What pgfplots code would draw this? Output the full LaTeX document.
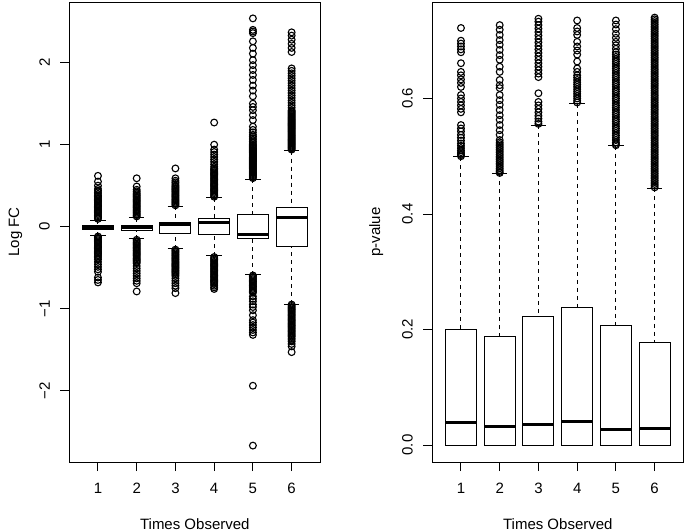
\documentclass[border=0pt]{standalone}
\usepackage{fontspec}
\setmainfont{Liberation Sans}
\usepackage{pgfplots}
\pgfplotsset{compat=1.18}
\usepgfplotslibrary{statistics}
\pgfplotsset{
  boxplot/draw/lower whisker/.code={%
    \draw[dash pattern=on 4bp off 4bp]
      (boxplot cs:\pgfplotsboxplotvalue{lower whisker}) -- (boxplot cs:\pgfplotsboxplotvalue{lower quartile});
    \draw[solid] (boxplot whisker cs:\pgfplotsboxplotvalue{lower whisker},0) -- (boxplot whisker cs:\pgfplotsboxplotvalue{lower whisker},1);
  },
  boxplot/draw/upper whisker/.code={%
    \draw[dash pattern=on 4bp off 4bp]
      (boxplot cs:\pgfplotsboxplotvalue{upper whisker}) -- (boxplot cs:\pgfplotsboxplotvalue{upper quartile});
    \draw[solid] (boxplot whisker cs:\pgfplotsboxplotvalue{upper whisker},0) -- (boxplot whisker cs:\pgfplotsboxplotvalue{upper whisker},1);
  },
  rbox/.style={black, solid, line width=0.95bp, mark=o, mark size=3.4bp,
    mark options={line width=1.1bp},
    boxplot/draw direction=y,
    boxplot/box extend=0.8, boxplot/whisker extend=0.4,
    boxplot/every median/.style={line width=3bp}},
  rax/.style={scale only axis, width=251bp, height=460bp, anchor=south west,
    xmin=0.26, xmax=6.74, xtick={1,2,3,4,5,6}, xticklabels={1,2,3,4,5,6},
    tick align=outside, major tick length=9bp, xtick pos=left, ytick pos=left,
    axis line style={line width=0.95bp, black}, tick style={line width=0.95bp, black},
    yticklabel style={xshift=-7bp, rotate=90, anchor=south},
    xticklabel style={yshift=-9bp},
    xlabel={Times Observed},
    every axis x label/.style={at={(axis description cs:0.5,-0.1457)}, anchor=base},
  },
}
\begin{document}
\begin{tikzpicture}[font=\fontsize{15bp}{18bp}\selectfont]
\path[use as bounding box] (0,0) rectangle (685bp,532bp);
% ---------------- left panel: Log FC
\begin{axis}[rax, at={(69.3bp,70bp)},
  ymin=-2.870, ymax=2.740, ytick={-2,-1,0,1,2}, yticklabels={−2,−1,0,1,2},
  ylabel={Log FC},
  every axis y label/.style={at={(axis description cs:-0.215,0.5)}, anchor=center, rotate=90}]
\addplot[rbox, boxplot prepared={draw position=1, lower whisker=-0.11, lower quartile=-0.04, median=-0.016, upper quartile=0.012, upper whisker=0.08}]
 table[row sep=\\, y index=0] {v\\ 0.62\\ 0.55\\ 0.50\\ 0.46\\ 0.44\\ 0.42\\ 0.40\\ 0.38\\ 0.365\\ 0.35\\ 0.335\\ 0.32\\ 0.305\\ 0.29\\ 0.275\\ 0.26\\ 0.245\\ 0.23\\ 0.215\\ 0.20\\ 0.185\\ 0.17\\ 0.155\\ 0.14\\ 0.125\\ 0.11\\ 0.095\\
 -0.12\\ -0.135\\ -0.15\\ -0.165\\ -0.18\\ -0.195\\ -0.21\\ -0.225\\ -0.24\\ -0.255\\ -0.27\\ -0.285\\ -0.30\\ -0.315\\ -0.33\\ -0.345\\ -0.36\\ -0.38\\ -0.40\\ -0.43\\ -0.46\\ -0.49\\ -0.52\\ -0.55\\ -0.62\\ -0.65\\ -0.68\\};
\addplot[rbox, boxplot prepared={draw position=2, lower whisker=-0.15, lower quartile=-0.05, median=-0.012, upper quartile=0.02, upper whisker=0.11}]
 table[row sep=\\, y index=0] {v\\ 0.59\\ 0.49\\ 0.45\\ 0.43\\ 0.41\\ 0.395\\ 0.38\\ 0.365\\ 0.35\\ 0.335\\ 0.32\\ 0.305\\ 0.29\\ 0.275\\ 0.26\\ 0.245\\ 0.23\\ 0.215\\ 0.20\\ 0.185\\ 0.17\\ 0.155\\ 0.14\\ 0.125\\
 -0.16\\ -0.175\\ -0.19\\ -0.205\\ -0.22\\ -0.235\\ -0.25\\ -0.265\\ -0.28\\ -0.295\\ -0.31\\ -0.325\\ -0.34\\ -0.355\\ -0.37\\ -0.385\\ -0.40\\ -0.415\\ -0.43\\ -0.445\\ -0.48\\ -0.51\\ -0.54\\ -0.57\\ -0.60\\ -0.63\\ -0.66\\ -0.69\\ -0.79\\};
\addplot[rbox, boxplot prepared={draw position=3, lower whisker=-0.27, lower quartile=-0.08, median=0.03, upper quartile=0.053, upper whisker=0.25}]
 table[row sep=\\, y index=0] {v\\ 0.71\\ 0.59\\ 0.56\\ 0.54\\ 0.52\\ 0.50\\ 0.485\\ 0.47\\ 0.455\\ 0.44\\ 0.425\\ 0.41\\ 0.395\\ 0.38\\ 0.365\\ 0.35\\ 0.335\\ 0.32\\ 0.305\\ 0.29\\ 0.275\\ 0.26\\
 -0.28\\ -0.295\\ -0.31\\ -0.325\\ -0.34\\ -0.355\\ -0.37\\ -0.385\\ -0.40\\ -0.415\\ -0.43\\ -0.445\\ -0.46\\ -0.475\\ -0.49\\ -0.505\\ -0.52\\ -0.535\\ -0.55\\ -0.565\\ -0.58\\ -0.60\\ -0.63\\ -0.66\\ -0.69\\ -0.72\\ -0.75\\ -0.81\\};
\addplot[rbox, boxplot prepared={draw position=4, lower whisker=-0.357, lower quartile=-0.09, median=0.054, upper quartile=0.098, upper whisker=0.35}]
 table[row sep=\\, y index=0] {v\\ 1.27\\ 1.00\\ 0.94\\ 0.91\\ 0.88\\ 0.85\\ 0.82\\ 0.79\\ 0.76\\ 0.73\\ 0.71\\ 0.695\\ 0.68\\ 0.665\\ 0.65\\ 0.635\\ 0.62\\ 0.605\\ 0.59\\ 0.575\\ 0.56\\ 0.545\\ 0.53\\ 0.515\\ 0.50\\ 0.485\\ 0.47\\ 0.455\\ 0.44\\ 0.425\\ 0.41\\ 0.395\\ 0.38\\ 0.365\\
 -0.37\\ -0.385\\ -0.40\\ -0.415\\ -0.43\\ -0.445\\ -0.46\\ -0.475\\ -0.49\\ -0.505\\ -0.52\\ -0.535\\ -0.55\\ -0.565\\ -0.58\\ -0.595\\ -0.61\\ -0.625\\ -0.64\\ -0.655\\ -0.67\\ -0.685\\ -0.70\\ -0.72\\ -0.74\\ -0.76\\};
\addplot[rbox, boxplot prepared={draw position=5, lower whisker=-0.585, lower quartile=-0.146, median=-0.10, upper quartile=0.146, upper whisker=0.58}]
 table[row sep=\\, y index=0] {v\\ 2.54\\ 2.40\\ 2.38\\ 2.36\\ 2.26\\ 2.18\\ 2.11\\ 2.03\\ 1.97\\ 1.91\\ 1.85\\ 1.79\\ 1.72\\ 1.66\\ 1.59\\ 1.50\\ 1.46\\ 1.42\\ 1.36\\ 1.30\\ 1.22\\ 1.18\\ 1.15\\ 1.12\\ 1.10\\ 1.08\\ 1.06\\ 1.04\\ 1.02\\
 1.00\\ 0.988\\ 0.976\\ 0.964\\ 0.952\\ 0.94\\ 0.928\\ 0.916\\ 0.904\\ 0.892\\ 0.88\\ 0.868\\ 0.856\\ 0.844\\ 0.832\\ 0.82\\ 0.808\\ 0.796\\ 0.784\\ 0.772\\ 0.76\\ 0.748\\ 0.736\\ 0.724\\ 0.712\\ 0.70\\ 0.688\\ 0.676\\ 0.664\\ 0.652\\ 0.64\\ 0.628\\ 0.616\\ 0.604\\ 0.592\\
 -0.595\\ -0.61\\ -0.625\\ -0.64\\ -0.655\\ -0.67\\ -0.685\\ -0.70\\ -0.715\\ -0.73\\ -0.745\\ -0.76\\ -0.775\\ -0.79\\ -0.805\\ -0.85\\ -0.88\\ -0.91\\ -0.95\\ -0.98\\ -1.02\\ -1.08\\ -1.14\\ -1.17\\ -1.20\\ -1.23\\ -1.26\\ -1.29\\ -1.32\\ -1.94\\ -2.67\\};
\addplot[rbox, boxplot prepared={draw position=6, lower whisker=-0.943, lower quartile=-0.244, median=0.11, upper quartile=0.228, upper whisker=0.927}]
 table[row sep=\\, y index=0] {v\\ 2.37\\ 2.33\\ 2.28\\ 2.23\\ 2.18\\ 2.13\\ 1.93\\ 1.90\\ 1.87\\ 1.84\\ 1.81\\ 1.78\\ 1.75\\ 1.72\\ 1.69\\ 1.66\\ 1.63\\ 1.60\\ 1.57\\ 1.54\\ 1.51\\ 1.48\\ 1.45\\
 1.42\\ 1.408\\ 1.396\\ 1.384\\ 1.372\\ 1.36\\ 1.348\\ 1.336\\ 1.324\\ 1.312\\ 1.30\\ 1.288\\ 1.276\\ 1.264\\ 1.252\\ 1.24\\ 1.228\\ 1.216\\ 1.204\\ 1.192\\ 1.18\\ 1.168\\ 1.156\\ 1.144\\ 1.132\\ 1.12\\ 1.108\\ 1.096\\ 1.084\\ 1.072\\ 1.06\\ 1.048\\ 1.036\\ 1.024\\ 1.012\\ 1.00\\ 0.988\\ 0.976\\ 0.964\\ 0.952\\ 0.94\\
 -0.95\\ -0.965\\ -0.98\\ -0.995\\ -1.01\\ -1.025\\ -1.04\\ -1.055\\ -1.07\\ -1.085\\ -1.10\\ -1.115\\ -1.13\\ -1.145\\ -1.16\\ -1.175\\ -1.19\\ -1.205\\ -1.22\\ -1.235\\ -1.25\\ -1.265\\ -1.28\\ -1.295\\ -1.31\\ -1.325\\ -1.34\\ -1.36\\ -1.38\\ -1.40\\ -1.43\\ -1.46\\ -1.53\\};
\end{axis}
% ---------------- right panel: p-value
\begin{axis}[rax, at={(432.3bp,70bp)},
  ymin=-0.0294, ymax=0.767, ytick={0,0.2,0.4,0.6}, yticklabels={0.0,0.2,0.4,0.6},
  ylabel={p-value},
  every axis y label/.style={at={(axis description cs:-0.223,0.5)}, anchor=center, rotate=90}]
\addplot[rbox, boxplot prepared={draw position=1, lower whisker=0, lower quartile=0, median=0.0387, upper quartile=0.1997, upper whisker=0.499}]
 table[row sep=\\, y index=0] {v\\ 0.722\\ 0.700\\ 0.695\\ 0.690\\ 0.685\\ 0.680\\ 0.661\\ 0.646\\ 0.640\\ 0.633\\ 0.627\\ 0.620\\ 0.606\\ 0.600\\ 0.594\\ 0.588\\ 0.582\\ 0.576\\ 0.554\\ 0.548\\ 0.543\\ 0.537\\ 0.532\\ 0.527\\ 0.522\\ 0.518\\ 0.514\\ 0.510\\ 0.507\\ 0.504\\ 0.502\\ 0.500\\};
\addplot[rbox, boxplot prepared={draw position=2, lower whisker=0, lower quartile=0, median=0.032, upper quartile=0.188, upper whisker=0.4705}]
 table[row sep=\\, y index=0] {v\\ 0.727\\ 0.719\\ 0.710\\ 0.701\\ 0.693\\ 0.684\\ 0.675\\ 0.667\\ 0.655\\ 0.646\\ 0.632\\ 0.623\\ 0.618\\ 0.606\\ 0.597\\ 0.589\\ 0.580\\ 0.571\\ 0.563\\ 0.554\\ 0.545\\ 0.537\\ 0.528\\ 0.524\\ 0.521\\ 0.518\\ 0.515\\ 0.512\\ 0.509\\ 0.506\\ 0.503\\ 0.500\\ 0.497\\ 0.494\\ 0.491\\ 0.488\\ 0.485\\ 0.482\\ 0.479\\ 0.476\\ 0.473\\ 0.471\\};
\addplot[rbox, boxplot prepared={draw position=3, lower whisker=0, lower quartile=0, median=0.035, upper quartile=0.222, upper whisker=0.554}]
 table[row sep=\\, y index=0] {v\\ 0.738\\ 0.733\\ 0.727\\ 0.721\\ 0.715\\ 0.709\\ 0.703\\ 0.697\\ 0.691\\ 0.685\\ 0.679\\ 0.673\\ 0.667\\ 0.661\\ 0.655\\ 0.649\\ 0.643\\ 0.637\\ 0.609\\ 0.594\\ 0.588\\ 0.582\\ 0.576\\ 0.570\\ 0.565\\ 0.560\\ 0.556\\};
\addplot[rbox, boxplot prepared={draw position=4, lower whisker=0, lower quartile=0, median=0.040, upper quartile=0.238, upper whisker=0.5905}]
 table[row sep=\\, y index=0] {v\\ 0.735\\ 0.722\\ 0.716\\ 0.710\\ 0.698\\ 0.690\\ 0.683\\ 0.676\\ 0.664\\ 0.652\\ 0.646\\ 0.640\\ 0.636\\ 0.632\\ 0.628\\ 0.624\\ 0.620\\ 0.616\\ 0.612\\ 0.608\\ 0.604\\ 0.600\\ 0.596\\ 0.593\\};
\addplot[rbox, boxplot prepared={draw position=5, lower whisker=0, lower quartile=0, median=0.0265, upper quartile=0.207, upper whisker=0.518}]
 table[row sep=\\, y index=0] {v\\ 0.735\\ 0.728\\ 0.720\\ 0.712\\ 0.705\\ 0.698\\ 0.692\\ 0.686\\ 0.680\\ 0.676\\ 0.672\\ 0.668\\ 0.664\\ 0.660\\ 0.656\\ 0.652\\ 0.648\\ 0.644\\ 0.640\\ 0.636\\ 0.632\\ 0.628\\ 0.624\\ 0.620\\ 0.616\\ 0.612\\ 0.608\\ 0.604\\ 0.600\\ 0.596\\ 0.592\\ 0.588\\ 0.584\\ 0.580\\ 0.576\\ 0.572\\ 0.568\\ 0.564\\ 0.560\\ 0.556\\ 0.552\\ 0.548\\ 0.544\\ 0.540\\ 0.536\\ 0.532\\ 0.528\\ 0.524\\ 0.521\\ 0.519\\};
\addplot[rbox, boxplot prepared={draw position=6, lower whisker=0, lower quartile=0, median=0.028, upper quartile=0.178, upper whisker=0.445}]
 table[row sep=\\, y index=0] {v\\ 0.740\\ 0.737\\ 0.734\\ 0.731\\ 0.728\\ 0.725\\ 0.722\\ 0.719\\ 0.716\\ 0.713\\ 0.710\\ 0.707\\ 0.704\\ 0.701\\ 0.698\\ 0.695\\ 0.692\\ 0.689\\ 0.686\\ 0.683\\ 0.680\\ 0.677\\ 0.674\\ 0.671\\ 0.668\\ 0.665\\ 0.662\\ 0.659\\ 0.656\\ 0.653\\ 0.650\\ 0.647\\ 0.644\\ 0.641\\ 0.638\\ 0.635\\ 0.632\\ 0.629\\ 0.626\\ 0.623\\ 0.620\\ 0.617\\ 0.614\\ 0.611\\ 0.608\\ 0.605\\ 0.602\\ 0.599\\ 0.596\\ 0.593\\ 0.590\\ 0.587\\ 0.584\\ 0.581\\ 0.578\\ 0.575\\ 0.572\\ 0.569\\ 0.566\\ 0.563\\ 0.560\\ 0.557\\ 0.554\\ 0.551\\ 0.548\\ 0.545\\ 0.542\\ 0.539\\ 0.536\\ 0.533\\ 0.530\\ 0.527\\ 0.524\\ 0.521\\ 0.518\\ 0.515\\ 0.512\\ 0.509\\ 0.506\\ 0.503\\ 0.500\\ 0.497\\ 0.494\\ 0.491\\ 0.488\\ 0.485\\ 0.482\\ 0.479\\ 0.476\\ 0.473\\ 0.470\\ 0.467\\ 0.464\\ 0.461\\ 0.458\\ 0.455\\ 0.452\\ 0.449\\ 0.446\\};
\end{axis}
\end{tikzpicture}
\end{document}
